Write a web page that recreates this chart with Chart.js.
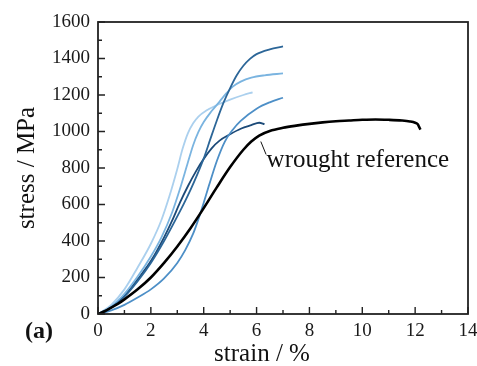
<!DOCTYPE html>
<html>
<head>
<meta charset="utf-8">
<script src="https://cdn.jsdelivr.net/npm/chart.js@4.4.1/dist/chart.umd.min.js"></script>
<style>
  html, body { margin: 0; padding: 0; background: #ffffff; }
  #wrap { width: 477px; height: 366px; position: relative; }
</style>
</head>
<body>
<div id="wrap"><canvas id="c" width="477" height="366"></canvas></div>
<script>
// ---- Data (strain in %, stress in MPa) ----
const xTicks = [0, 2, 4, 6, 8, 10, 12, 14];
const yTicks = [0, 200, 400, 600, 800, 1000, 1200, 1400, 1600];

const wroughtStrain = [0, 0.25, 0.5, 0.75, 1, 1.5, 2, 2.5, 3, 3.5, 4, 4.5, 5, 5.5, 5.8, 6.1, 6.5, 7, 7.5, 8, 8.5, 9, 9.5, 10, 10.5, 11, 11.5, 11.8, 12, 12.1, 12.15, 12.2];
const wroughtStress = [0, 15, 35, 55, 80, 135, 200, 280, 370, 470, 580, 695, 805, 900, 945, 978, 1003, 1020, 1032, 1042, 1050, 1056, 1060, 1064, 1066, 1064, 1060, 1055, 1048, 1040, 1025, 1010];

const s1Strain = [0, 0.5, 1, 1.5, 2, 2.5, 3, 3.25, 3.5, 3.75, 4, 4.25, 4.5, 4.75, 5, 5.25, 5.5, 5.75, 6, 6.5, 7];
const s1Stress = [0, 35, 95, 180, 280, 400, 535, 605, 680, 762, 852, 958, 1062, 1158, 1238, 1308, 1360, 1398, 1424, 1450, 1466];

const s2Strain = [0, 0.5, 1, 1.5, 2, 2.4, 2.8, 3.1, 3.4, 3.6, 3.8, 4.0, 4.3, 4.6, 4.86, 5.1, 5.4, 5.8, 6.3, 7];
const s2Stress = [0, 40, 110, 205, 315, 420, 555, 685, 830, 925, 998, 1052, 1112, 1164, 1210, 1246, 1273, 1295, 1308, 1318];

const s3Strain = [0, 0.5, 1, 1.5, 2, 2.4, 2.7, 3, 3.2, 3.4, 3.6, 3.8, 4.1, 4.5, 5, 5.5, 5.85];
const s3Stress = [0, 50, 135, 255, 385, 515, 645, 795, 905, 990, 1045, 1082, 1115, 1145, 1175, 1200, 1215];

const s4Strain = [0, 0.5, 1, 1.5, 2, 2.5, 3, 3.3, 3.6, 3.8, 4.0, 4.2, 4.5, 4.8, 5.1, 5.4, 6, 6.5, 7];
const s4Stress = [0, 20, 50, 90, 135, 195, 280, 350, 440, 520, 610, 705, 840, 945, 1010, 1058, 1125, 1160, 1185];

const s5Strain = [0, 0.5, 1, 1.5, 2, 2.5, 2.8, 3.1, 3.4, 3.7, 4, 4.3, 4.6, 5, 5.4, 5.8, 6.1, 6.3];
const s5Stress = [0, 35, 100, 190, 290, 420, 510, 610, 700, 780, 850, 908, 950, 985, 1015, 1035, 1048, 1040];

const seriesNames = ['wrought reference', 'sample 1', 'sample 2', 'sample 3', 'sample 4', 'sample 5'];
const seriesColors = ['#000000', '#2c6698', '#7ab4e0', '#abd0ee', '#4d8fc7', '#1c4a78'];

const annotationText = 'wrought reference';
const annotationAt = { x: 6.38, y: 808 };
const leaderFrom = { x: 6.16, y: 945 };
const leaderTo = { x: 6.36, y: 874 };

const xTitle = 'strain / %';
const yTitle = 'stress / MPa';
const panelLabel = '(a)';

// ---- Build datasets ----
function pts(xs, ys) { return xs.map((x, i) => ({ x: x, y: ys[i] })); }
const allSeries = [
  pts(wroughtStrain, wroughtStress),
  pts(s1Strain, s1Stress),
  pts(s2Strain, s2Stress),
  pts(s3Strain, s3Stress),
  pts(s4Strain, s4Stress),
  pts(s5Strain, s5Stress)
];
const datasets = allSeries.map((d, i) => ({
  label: seriesNames[i],
  data: d,
  borderColor: seriesColors[i],
  backgroundColor: seriesColors[i],
  borderWidth: i === 0 ? 2.6 : 1.8,
  showLine: true,
  pointRadius: 0,
  cubicInterpolationMode: 'monotone',
  fill: false
}));

const SERIF = '"Liberation Serif", "Times New Roman", serif';

const decor = {
  id: 'decor',
  afterDatasetsDraw(chart) {
    const ctx = chart.ctx;
    const a = chart.chartArea;
    const xs = chart.scales.x, ys = chart.scales.y;
    ctx.save();
    // frame
    ctx.strokeStyle = '#222222';
    ctx.lineWidth = 1.8;
    ctx.strokeRect(a.left, a.top, a.right - a.left, a.bottom - a.top);
    // ticks (inward)
    ctx.lineWidth = 1.4;
    ctx.beginPath();
    for (let i = 0; i < xTicks.length; i++) {
      const px = xs.getPixelForValue(xTicks[i]);
      ctx.moveTo(px, a.bottom); ctx.lineTo(px, a.bottom - 7);
      if (i < xTicks.length - 1) {
        const mx = xs.getPixelForValue((xTicks[i] + xTicks[i + 1]) / 2);
        ctx.moveTo(mx, a.bottom); ctx.lineTo(mx, a.bottom - 4);
      }
    }
    for (let i = 0; i < yTicks.length; i++) {
      const py = ys.getPixelForValue(yTicks[i]);
      ctx.moveTo(a.left, py); ctx.lineTo(a.left + 7, py);
      if (i < yTicks.length - 1) {
        const my = ys.getPixelForValue((yTicks[i] + yTicks[i + 1]) / 2);
        ctx.moveTo(a.left, my); ctx.lineTo(a.left + 4, my);
      }
    }
    ctx.stroke();

    // annotation
    ctx.fillStyle = '#111111';
    ctx.strokeStyle = '#111111';
    ctx.lineWidth = 1;
    ctx.beginPath();
    ctx.moveTo(xs.getPixelForValue(leaderFrom.x), ys.getPixelForValue(leaderFrom.y));
    ctx.lineTo(xs.getPixelForValue(leaderTo.x), ys.getPixelForValue(leaderTo.y));
    ctx.stroke();
    ctx.font = '25px ' + SERIF;
    ctx.textAlign = 'left';
    ctx.textBaseline = 'alphabetic';
    ctx.fillText(annotationText, xs.getPixelForValue(annotationAt.x), ys.getPixelForValue(annotationAt.y));

    // axis titles
    ctx.font = '25px ' + SERIF;
    ctx.textAlign = 'center';
    ctx.textBaseline = 'middle';
    ctx.fillText(xTitle, 262, 354);
    ctx.save();
    ctx.translate(27, (a.top + a.bottom) / 2);
    ctx.rotate(-Math.PI / 2);
    ctx.fillText(yTitle, 0, 0);
    ctx.restore();

    // panel label
    ctx.font = 'bold 24px ' + SERIF;
    ctx.textAlign = 'left';
    ctx.textBaseline = 'alphabetic';
    ctx.fillText(panelLabel, 25, 338);
    ctx.restore();
  }
};

new Chart(document.getElementById('c'), {
  type: 'scatter',
  data: { datasets: datasets },
  options: {
    responsive: false,
    animation: false,
    devicePixelRatio: 1,
    layout: { padding: { left: 0, right: 9, top: 22, bottom: 0 } },
    plugins: { legend: { display: false }, tooltip: { enabled: false } },
    scales: {
      x: {
        type: 'linear', min: 0, max: 14,
        afterBuildTicks: (s) => { s.ticks = xTicks.map(v => ({ value: v })); },
        ticks: { font: { family: SERIF, size: 19 }, color: '#1a1a1a', padding: 6, maxRotation: 0, autoSkip: false, callback: (v) => String(v) },
        grid: { display: false, drawTicks: false },
        border: { display: false },
        afterFit: (s) => { s.height = 52; s.paddingLeft = 0; s.paddingRight = 0; }
      },
      y: {
        type: 'linear', min: 0, max: 1600,
        afterBuildTicks: (s) => { s.ticks = yTicks.map(v => ({ value: v })); },
        ticks: { font: { family: SERIF, size: 19 }, color: '#1a1a1a', padding: 8, autoSkip: false, callback: (v) => String(v) },
        grid: { display: false, drawTicks: false },
        border: { display: false },
        afterFit: (s) => { s.width = 98; s.paddingTop = 0; s.paddingBottom = 0; }
      }
    }
  },
  plugins: [decor]
});
</script>
</body>
</html>
